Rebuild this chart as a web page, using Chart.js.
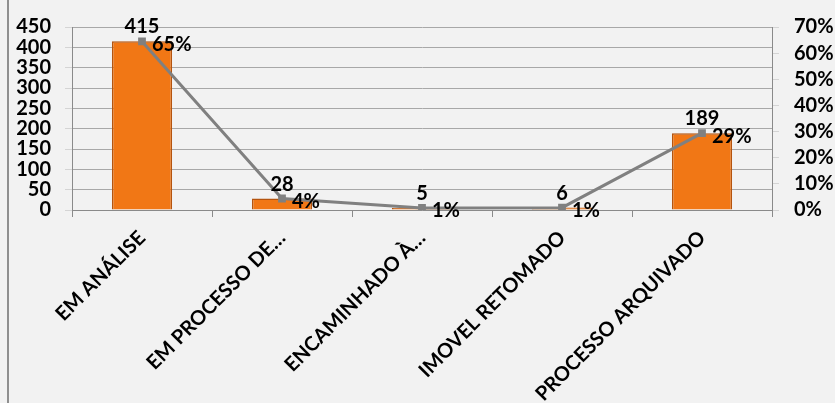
<!DOCTYPE html>
<html>
<head>
<meta charset="utf-8">
<script src="https://cdn.jsdelivr.net/npm/chart.js@4"></script>
<style>
  html, body { margin: 0; padding: 0; background: #f2f2f2; }
  #wrap { position: relative; width: 835px; height: 403px; }
</style>
</head>
<body>
<div id="wrap"><canvas id="chart"></canvas></div>
<script>
// dados
const categorias = ['EM ANÁLISE', 'EM PROCESSO DE…', 'ENCAMINHADO À…', 'IMOVEL RETOMADO', 'PROCESSO ARQUIVADO'];
const quantidades = [415, 28, 5, 6, 189];
const percentuais = [64.5, 4.4, 0.8, 0.9, 29.4];
const rotulosPct = ['65%', '4%', '1%', '1%', '29%'];

const fonte = { family: 'Lato', size: 20, weight: 'bold' };

// fundo + linha da moldura à esquerda
const fundo = {
  id: 'fundo',
  beforeDraw(chart) {
    const ctx = chart.ctx;
    ctx.save();
    ctx.fillStyle = '#f2f2f2';
    ctx.fillRect(0, 0, chart.width, chart.height);
    ctx.strokeStyle = '#8f8f8f';
    ctx.lineWidth = 2;
    ctx.beginPath();
    ctx.moveTo(8, 0);
    ctx.lineTo(8, chart.height);
    ctx.stroke();
    ctx.restore();
  }
};

// rótulos de dados
const rotulos = {
  id: 'rotulos',
  afterDatasetsDraw(chart) {
    const ctx = chart.ctx;
    ctx.save();
    ctx.font = 'bold 20px Lato';
    ctx.fillStyle = '#000';
    chart.getDatasetMeta(1).data.forEach((el, i) => {
      ctx.textAlign = 'center';
      ctx.textBaseline = 'alphabetic';
      ctx.fillText(String(quantidades[i]), el.x, el.y - 8);
    });
    chart.getDatasetMeta(0).data.forEach((el, i) => {
      ctx.textAlign = 'left';
      ctx.textBaseline = 'middle';
      ctx.fillText(rotulosPct[i], el.x + 10, el.y + 3);
    });
    ctx.restore();
  }
};

// barra com leve degradê horizontal
function corBarra(c) {
  const el = c.element;
  if (!el || !isFinite(el.x) || !isFinite(el.width)) return '#f17715';
  const g = c.chart.ctx.createLinearGradient(el.x - el.width / 2, 0, el.x + el.width / 2, 0);
  g.addColorStop(0, '#e86c0e');
  g.addColorStop(0.5, '#f47a16');
  g.addColorStop(1, '#e06810');
  return g;
}

new Chart(document.getElementById('chart'), {
  data: {
    labels: categorias,
    datasets: [
      {
        type: 'line',
        data: percentuais,
        yAxisID: 'y1',
        borderColor: '#808080',
        backgroundColor: '#808080',
        borderWidth: 3,
        pointStyle: 'rect',
        pointRadius: 5.5,
        pointBorderWidth: 0,
        order: 0
      },
      {
        type: 'bar',
        data: quantidades,
        yAxisID: 'y',
        backgroundColor: corBarra,
        borderColor: '#b4540f',
        borderWidth: 1.5,
        categoryPercentage: 1,
        barPercentage: 0.43,
        order: 1
      }
    ]
  },
  options: {
    responsive: true,
    maintainAspectRatio: false,
    devicePixelRatio: 1,
    animation: false,
    layout: { padding: { top: 15, left: 0, right: 0, bottom: 0 } },
    plugins: { legend: { display: false }, tooltip: { enabled: false } },
    scales: {
      x: {
        grid: { offset: true, drawOnChartArea: false, color: '#8a8a8a', tickLength: 7 },
        border: { color: '#8a8a8a' },
        ticks: { font: fonte, color: '#000', minRotation: 45, maxRotation: 45, autoSkip: false, padding: 9 },
        afterFit(s) { s.height = 193; }
      },
      y: {
        position: 'left',
        min: 0, max: 450,
        ticks: { stepSize: 50, autoSkip: false, font: fonte, color: '#000', padding: 14 },
        grid: { color: '#a8a8a8', tickColor: '#d4d4d4', tickLength: 7 },
        border: { color: '#8a8a8a' },
        afterFit(s) { s.width = 72; }
      },
      y1: {
        position: 'right',
        min: 0, max: 70,
        ticks: { stepSize: 10, autoSkip: false, font: fonte, color: '#000', padding: 15, callback: v => v + '%' },
        grid: { drawOnChartArea: false, tickColor: '#d4d4d4', tickLength: 7 },
        border: { color: '#8a8a8a' },
        afterFit(s) { s.width = 63; }
      }
    }
  },
  plugins: [fundo, rotulos]
});
</script>
</body>
</html>
